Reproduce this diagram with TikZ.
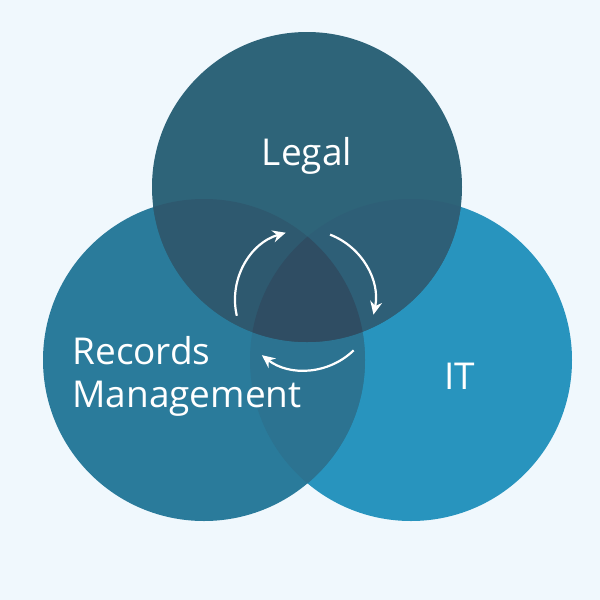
\documentclass[tikz,border=0pt]{standalone}
\usepackage{fontspec}
\setmainfont{Open Sans}
\usetikzlibrary{arrows.meta}
\definecolor{bg}{HTML}{F0F8FD}
\definecolor{cLegal}{HTML}{2E6479}
\definecolor{cRec}{HTML}{2A7B9B}
\definecolor{cIT}{HTML}{2894BE}
\definecolor{cLI}{HTML}{2E5F77}
\definecolor{cRI}{HTML}{2C7391}
\definecolor{cLR}{HTML}{2E596F}
\definecolor{cAll}{HTML}{2F4D63}
\tikzset{venn/.style={circle,minimum size=#1,inner sep=0pt},
lab/.style={text=white,font=\fontsize{37}{43}\selectfont,align=left},
cyc/.style={white,line width=2.2pt,-{Stealth[length=13pt,width=12pt]}}}
\begin{document}
\begin{tikzpicture}[x=1pt,y=-1pt]
\fill[bg] (0,0) rectangle (600,600);
\useasboundingbox (0,0) rectangle (600,600);
\node[venn=322pt,fill=cIT] (it) at (411,360) {};
\node[venn=322pt,fill=cRec] (rec) at (204,360) {};
\node[venn=310pt,fill=cLegal] (legal) at (307,187) {};
\begin{scope}\clip (411,360) circle[radius=161];
\fill[cRI] (204,360) circle[radius=161];
\fill[cLI] (307,187) circle[radius=155];
\end{scope}
\begin{scope}\clip (204,360) circle[radius=161];
\fill[cLR] (307,187) circle[radius=155];
\clip (411,360) circle[radius=161];
\fill[cAll] (307,187) circle[radius=155];
\end{scope}
\node[lab] (tl) at (307,156) {Legal};
\node[lab] (tr) at (187,376) {Records\\Management};
\node[lab] (ti) at (460,376) {IT};
\coordinate (c) at (305,300);
\draw[cyc] ([shift={(167:70)}]c) arc[start angle=167,end angle=254,radius=70];
\draw[cyc] ([shift={(291:70)}]c) arc[start angle=291,end angle=372,radius=70];
\draw[cyc] ([shift={(46:70)}]c) arc[start angle=46,end angle=128,radius=70];
\end{tikzpicture}
\end{document}
